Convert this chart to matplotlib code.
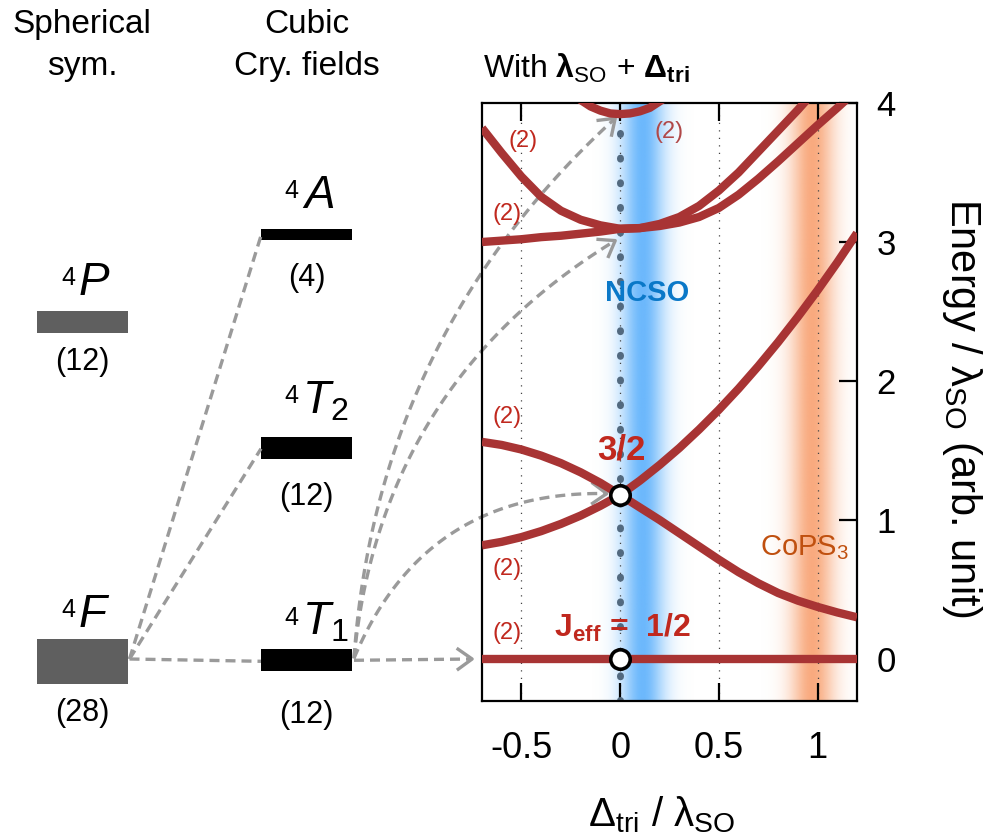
import numpy as np
import matplotlib
matplotlib.use("Agg")
import matplotlib.pyplot as plt
import matplotlib.colors as mcolors

plt.rcParams['font.family'] = ['Liberation Sans', 'DejaVu Sans']
plt.rcParams['mathtext.fontset'] = 'custom'
plt.rcParams['mathtext.rm'] = 'Liberation Sans'
plt.rcParams['mathtext.it'] = 'Liberation Sans:italic'
plt.rcParams['mathtext.bf'] = 'Liberation Sans:bold'
plt.rcParams['axes.unicode_minus'] = False

# ---- free ion / cubic crystal field terms ----
sph_terms = [r"$P$", r"$F$"]
sph_deg = [12, 28]
cub_terms = [r"$A$", r"$T_2$", r"$T_1$"]
cub_deg = [4, 12, 12]

# ---- 4T1 manifold with spin-orbit + trigonal field (E / lambda_SO) ----
delta = [-0.7, -0.6, -0.5, -0.4, -0.3, -0.2, -0.1, 0.0, 0.1, 0.2,
         0.3, 0.4, 0.5, 0.6, 0.7, 0.8, 0.9, 1.0, 1.1, 1.2]
e_half = [0.0] * len(delta)
e_32_down = [1.562, 1.540, 1.507, 1.463, 1.409, 1.343, 1.267, 1.18, 1.09, 1.00,
             0.905, 0.81, 0.715, 0.625, 0.545, 0.475, 0.42, 0.375, 0.335, 0.30]
e_32_up = [0.818, 0.843, 0.877, 0.920, 0.972, 1.032, 1.102, 1.18, 1.283, 1.396,
           1.518, 1.651, 1.793, 1.945, 2.107, 2.279, 2.461, 2.652, 2.853, 3.064]

delta_52a = [-0.7, -0.6, -0.5, -0.4, -0.3, -0.2, -0.1, 0.0, 0.1, 0.2,
             0.3, 0.4, 0.5, 0.6, 0.7, 0.8, 0.9, 0.95]
e_52a = [3.82, 3.64, 3.47, 3.325, 3.225, 3.16, 3.12, 3.095, 3.10, 3.13,
         3.18, 3.26, 3.37, 3.50, 3.65, 3.80, 3.95, 4.03]
delta_52b = [-0.7, -0.6, -0.5, -0.4, -0.3, -0.2, -0.1, 0.0, 0.1, 0.2,
             0.3, 0.4, 0.5, 0.6, 0.7, 0.8, 0.9, 1.0, 1.1, 1.15]
e_52b = [3.00, 3.01, 3.02, 3.035, 3.045, 3.06, 3.075, 3.095, 3.10, 3.115,
         3.14, 3.18, 3.245, 3.34, 3.455, 3.58, 3.71, 3.84, 3.965, 4.03]
delta_top = [-0.22, -0.15, -0.1, -0.05, 0.0, 0.05, 0.1, 0.15, 0.22]
e_top = [4.04, 3.975, 3.945, 3.925, 3.92, 3.925, 3.94, 3.965, 4.03]

# degeneracy tags inside the panel
tag_pos = [(-0.49, 3.73), (-0.575, 3.20), (-0.575, 1.74), (-0.575, 0.65), (-0.575, 0.19)]
tag_top = (0.246, 3.79)

# material positions (Delta_tri / lambda_SO)
band_centers = [0.115, 0.975]
band_colors = ['#6cb8fc', '#f9aa7e']

xticks = [-0.5, 0, 0.5, 1]
xticklabels = ['-0.5', '0', '0.5', '1']
yticks = [0, 1, 2, 3, 4]

red = '#a83434'
tag_red = '#c0281e'
grey = '#9a9a9a'

fig = plt.figure(figsize=(9.93, 8.34), dpi=100)

# overlay in pixel units for the level scheme on the left
ov = fig.add_axes([0, 0, 1, 1], zorder=-1)
ov.set_xlim(0, 993)
ov.set_ylim(834, 0)
ov.axis('off')

ax = fig.add_axes([482 / 993, 1 - 700.7 / 834, 375 / 993, 597.7 / 834])
ax.set_xlim(-0.7, 1.2)
ax.set_ylim(-0.3, 4.0)

# ---- level scheme ----
bar_w = 91
thick = {4: 11, 12: 22, 28: 45}
sph_x, cub_x = 82, 306.5
sph_y = [321.7, 661]
cub_y = [234.7, 447.7, 660.3]
sph_base = [295, 627]
cub_base = [208, 413, 635]
sph_deg_y = [362, 713]
cub_deg_y = [278, 497, 715]

for y, d, name, base, dy in zip(sph_y, sph_deg, sph_terms, sph_base, sph_deg_y):
    h = thick[d]
    ov.bar(sph_x, h, width=bar_w, bottom=y - h / 2, color='#5f5f5f')
    ov.text(sph_x - 4, base, name, fontsize=33, ha='left', va='baseline')
    ov.text(sph_x - 7, base - 10, '4', fontsize=18, ha='right', va='baseline')
    ov.text(sph_x, dy, f'({d})', fontsize=22, ha='center', va='center')

for y, d, name, base, dy in zip(cub_y, cub_deg, cub_terms, cub_base, cub_deg_y):
    h = thick[d]
    ov.bar(cub_x, h, width=bar_w, bottom=y - h / 2, color='black')
    ov.text(cub_x - 5, base, name, fontsize=33, ha='left', va='baseline')
    ov.text(cub_x - 8, base - 10, '4', fontsize=18, ha='right', va='baseline')
    ov.text(cub_x, dy, f'({d})', fontsize=22, ha='center', va='center')

for txt, yb in zip(['Spherical', 'sym.'], [33, 75]):
    ov.text(sph_x, yb, txt, fontsize=24, ha='center', va='baseline')
for txt, yb in zip(['Cubic', 'Cry. fields'], [33, 75]):
    ov.text(cub_x, yb, txt, fontsize=24, ha='center', va='baseline')

dash = (0, (3, 1.8))
f_right = sph_x + bar_w / 2 + 2
c_left = cub_x - bar_w / 2
for y in cub_y:
    ov.plot([f_right, c_left], [sph_y[1] - 2, y + 1], color=grey, lw=2.4,
            linestyle=dash)

# ---- highlighted materials ----
xs = np.linspace(-0.7, 1.2, 800)
for c, col in zip(band_centers, band_colors):
    prof = np.exp(-((xs - c) / 0.11) ** 2)
    rgba = np.zeros((2, xs.size, 4))
    rgba[..., :3] = mcolors.to_rgb(col)
    rgba[..., 3] = prof
    ax.imshow(rgba, extent=(-0.7, 1.2, -0.3, 4.0), aspect='auto',
              interpolation='bilinear', zorder=0)
ax.set_xlim(-0.7, 1.2)
ax.set_ylim(-0.3, 4.0)

ax.grid(axis='x', color='#444444', lw=0.9, linestyle=(0, (1, 5)))
ax.plot([0, 0], [-0.3, 3.8], color='#52697f', lw=5,
        linestyle=(0, (0.15, 3.4)), dash_capstyle='round', zorder=2.2)

# ---- levels ----
for xv, yv in [(delta, e_half), (delta, e_32_down), (delta, e_32_up),
               (delta_52a, e_52a), (delta_52b, e_52b), (delta_top, e_top)]:
    ax.plot(xv, yv, color=red, lw=6, solid_capstyle='butt',
            solid_joinstyle='round', zorder=3)

i0 = delta.index(0.0)
ax.plot([0, 0], [e_half[i0], e_32_up[i0]], 'o', ms=14, mfc='white',
        mec='black', mew=2.6, zorder=5)

for x, y in tag_pos:
    ax.text(x, y, '(2)', color=tag_red, fontsize=17, ha='center', va='center')
ax.text(*tag_top, '(2)', color='#b04848', fontsize=17, ha='center', va='center')

ax.text(0.008, 1.50, '3/2', color=tag_red, fontsize=25, weight='bold',
        ha='center', va='center')
ax.text(0.012, 0.22, r'$\mathbf{J_{eff}}$ =  1/2', color=tag_red, fontsize=23,
        weight='bold', ha='center', va='center')
ax.text(0.136, 2.63, 'NCSO', color='#0a78c8', fontsize=21, weight='bold',
        ha='center', va='center')
ax.text(0.934, 0.80, r'CoPS$_3$', color='#c0500f', fontsize=21,
        ha='center', va='center')


# ---- arrows from 4T1 into the panel ----
def to_px(x, y):
    return ov.transData.inverted().transform(ax.transData.transform((x, y)))


def dashed_arrow(start, end, rad):
    (x0, y0), (x1, y1) = start, end
    cx = (x0 + x1) / 2 + rad * (y1 - y0)
    cy = (y0 + y1) / 2 - rad * (x1 - x0)
    t = np.linspace(0, 1, 80)[:, None]
    pts = ((1 - t) ** 2 * np.array([x0, y0]) + 2 * (1 - t) * t * np.array([cx, cy])
           + t ** 2 * np.array([x1, y1]))
    ax.plot(pts[:, 0], pts[:, 1], color=grey, lw=2.4, linestyle=dash,
            transform=ov.transData, clip_on=False, zorder=2.5)
    u = np.array([x1 - cx, y1 - cy])
    u /= np.hypot(*u)
    n = np.array([-u[1], u[0]])
    back = np.array([x1, y1]) - 14 * u
    w1, w2 = back + 10 * n, back - 10 * n
    ax.plot([w1[0], x1, w2[0]], [w1[1], y1, w2[1]], color=grey, lw=2.4,
            transform=ov.transData, clip_on=False, zorder=2.5)


t1_start = (cub_x + bar_w / 2 + 2, cub_y[2] - 2)
arrow_tips = [(-0.025, 3.89), (-0.025, 3.01), (-0.068, 1.19), (-0.75, 0.0)]
arrow_rads = [0.2, 0.25, 0.34, 0.0]
for (x, y), r in zip(arrow_tips, arrow_rads):
    start = t1_start if r else (t1_start[0], cub_y[2])
    dashed_arrow(start, to_px(x, y), r)

# ---- axes styling ----
ax.set_xticks(xticks)
ax.set_xticklabels(xticklabels)
ax.set_yticks(yticks)
ax.tick_params(axis='x', direction='in', length=13, width=1.6, top=True,
               bottom=True, labelsize=26, pad=22)
ax.tick_params(axis='y', direction='in', length=13, width=1.6, left=False,
               right=True, labelleft=False, labelright=True, labelsize=25, pad=14)
for s in ax.spines.values():
    s.set_linewidth(1.6)

ax.set_xlabel(r'$\mathrm{Δ_{tri}}$ / $\mathrm{λ_{SO}}$', fontsize=29)
ax.xaxis.set_label_coords(0.48, -0.156)
ov.text(962, 408, r'Energy / $\mathrm{λ_{SO}}$ (arb. unit)', fontsize=30,
        rotation=270, ha='center', va='center')
ov.text(483, 78, r'With $\mathbf{λ}_{\mathrm{SO}}$ + $\mathbf{Δ_{tri}}$',
        fontsize=23, ha='left', va='baseline')

fig.savefig('out.png', dpi=100)
